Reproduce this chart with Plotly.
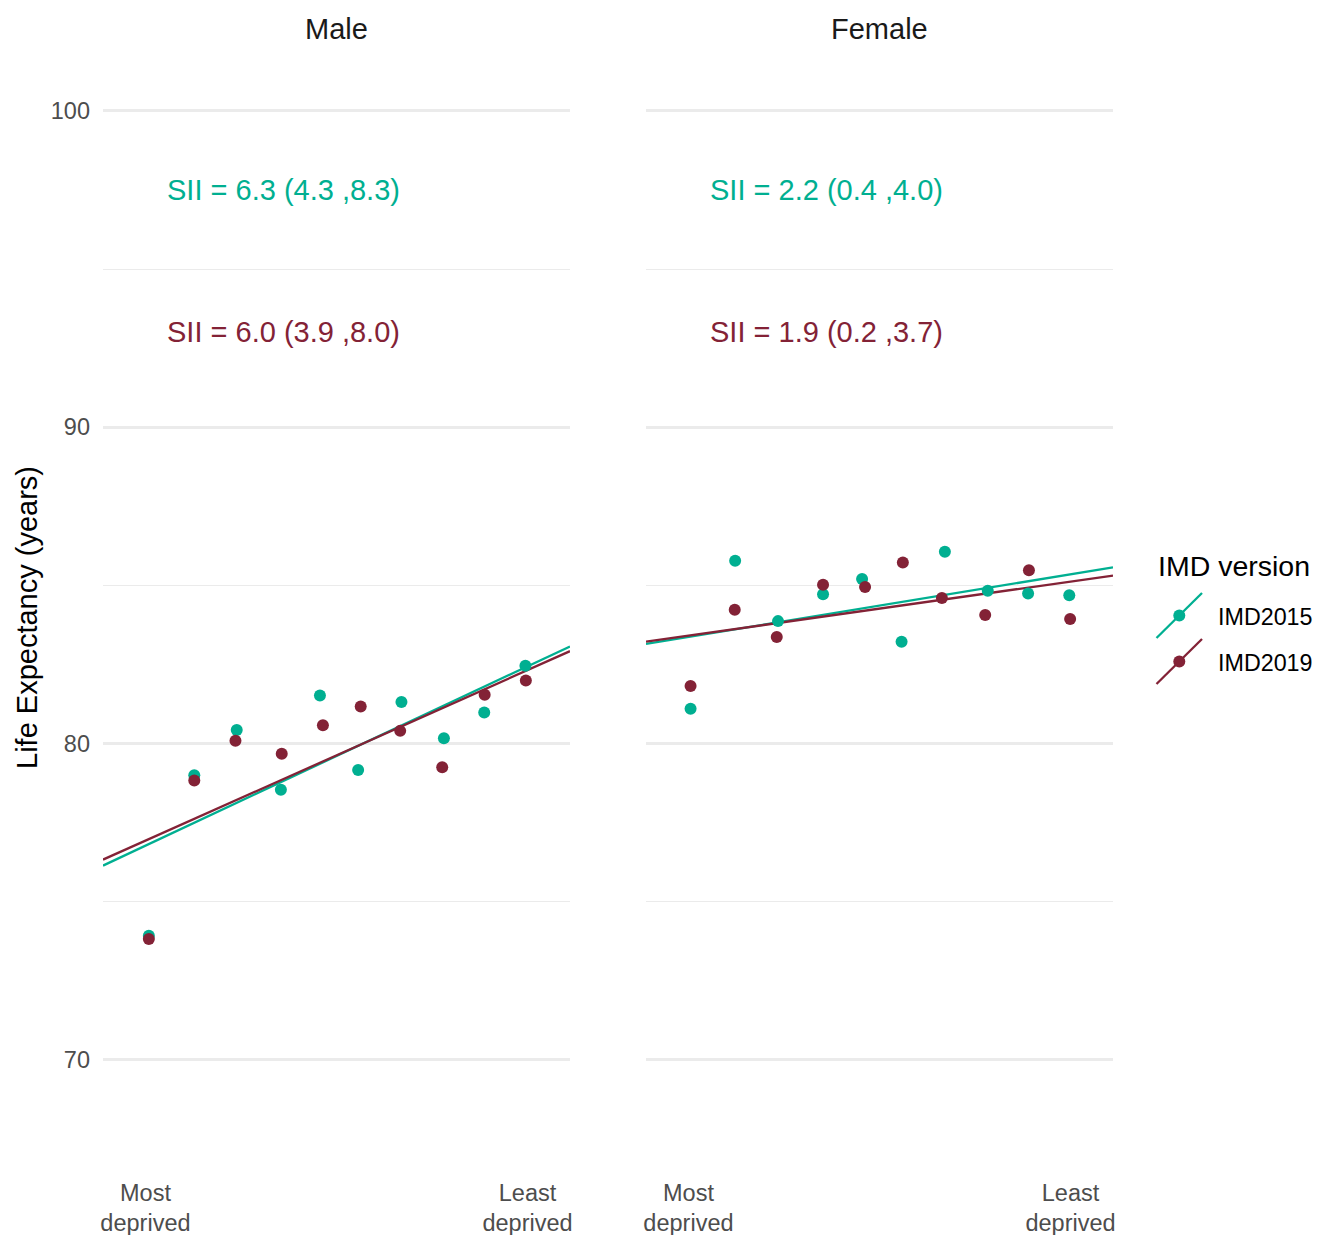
import plotly.graph_objects as go

# ---------------- data ----------------
tick_positions = [1, 10]
tick_labels = ["Most<br>deprived", "Least<br>deprived"]

male_x_2015 = [1.08, 2.15, 3.15, 4.19, 5.11, 6.01, 7.03, 8.03, 8.98, 9.95]
male_y_2015 = [73.92, 79.00, 80.43, 78.54, 81.52, 79.16, 81.31, 80.17, 80.98, 82.46]
male_x_2019 = [1.08, 2.15, 3.12, 4.21, 5.18, 6.07, 7.00, 7.99, 8.99, 9.96]
male_y_2019 = [73.82, 78.83, 80.09, 79.68, 80.58, 81.17, 80.40, 79.25, 81.54, 81.99]

female_x_2015 = [1.05, 2.10, 3.11, 4.17, 5.09, 6.02, 7.04, 8.05, 9.00, 9.97]
female_y_2015 = [81.10, 85.78, 83.87, 84.72, 85.20, 83.22, 86.06, 84.83, 84.74, 84.69]
female_x_2019 = [1.05, 2.09, 3.08, 4.17, 5.16, 6.05, 6.97, 7.99, 9.02, 9.99]
female_y_2019 = [81.82, 84.23, 83.37, 85.02, 84.95, 85.72, 84.60, 84.06, 85.48, 83.94]

fit_x = [0, 11]
male_fit_2015 = [76.14, 83.07]
male_fit_2019 = [76.33, 82.92]
female_fit_2015 = [83.15, 85.57]
female_fit_2019 = [83.22, 85.31]

sii_male = ["SII = 6.3 (4.3 ,8.3)", "SII = 6.0 (3.9 ,8.0)"]
sii_female = ["SII = 2.2 (0.4 ,4.0)", "SII = 1.9 (0.2 ,3.7)"]
sii_x = 4.25
sii_y = [97.5, 93.0]

versions = ["IMD2015", "IMD2019"]
colors = ["#00AF91", "#832236"]

# ---------------- layout geometry ----------------
# body margin is removed after rendering (post_script), figure fills the window
W, H = 1318, 1235
P_LEFT, P_RIGHT, P_TOP, P_BOTTOM = 103, 1113, 48, 1180  # screen pixels
ML, MT = P_LEFT, P_TOP
MR, MB = W - P_RIGHT, H - P_BOTTOM
PW = P_RIGHT - P_LEFT
PH = P_BOTTOM - P_TOP
FONT = "Liberation Sans, Arial, sans-serif"


def px_x(p):
    return (p - P_LEFT) / PW


def px_y(p):
    return (P_BOTTOM - p) / PH


fig = go.Figure()

panels = [
    ("x", "y", [male_fit_2015, male_fit_2019],
     [(male_x_2015, male_y_2015), (male_x_2019, male_y_2019)]),
    ("x2", "y2", [female_fit_2015, female_fit_2019],
     [(female_x_2015, female_y_2015), (female_x_2019, female_y_2019)]),
]

for xa, ya, fits, pts in panels:
    for i, fit in enumerate(fits):
        fig.add_trace(go.Scatter(
            x=fit_x, y=fit, mode="lines", xaxis=xa, yaxis=ya,
            line=dict(color=colors[i], width=2.3), showlegend=False,
            name=versions[i], hoverinfo="skip"))
    for i, (xs, ys) in enumerate(pts):
        fig.add_trace(go.Scatter(
            x=xs, y=ys, mode="markers", xaxis=xa, yaxis=ya,
            marker=dict(color=colors[i], size=12, line=dict(width=0)),
            showlegend=False, name=versions[i]))

grid_major = "#EBEBEB"
yaxis_common = dict(
    range=[66.2, 101.99], tickvals=[70, 80, 90, 100],
    showgrid=True, gridcolor=grid_major, gridwidth=2.5,
    zeroline=False, showline=False, ticks="", automargin=False,
    minor=dict(tickvals=[75, 85, 95], showgrid=True,
               gridcolor=grid_major, gridwidth=1.3),
    tickfont=dict(family=FONT, size=23.5, color="#4D4D4D"),
)
xaxis_common = dict(
    range=[0, 11], tickvals=tick_positions, ticktext=tick_labels,
    showgrid=False, zeroline=False, showline=False, ticks="",
    automargin=False, ticklabelstandoff=-4,
    tickfont=dict(family=FONT, size=23.5, color="#4D4D4D"),
)

fig.update_layout(
    width=W, height=H, autosize=False,
    margin=dict(l=ML, r=MR, t=MT, b=MB),
    paper_bgcolor="white", plot_bgcolor="white",
    font=dict(family=FONT),
    xaxis=dict(domain=[0, px_x(570)], anchor="y", **xaxis_common),
    xaxis2=dict(domain=[px_x(646), 1], anchor="y2", **xaxis_common),
    yaxis=dict(domain=[0, 1], anchor="x", ticklabelstandoff=12,
               ticktext=["70", "80", "90", "100"], **yaxis_common),
    yaxis2=dict(domain=[0, 1], anchor="x2", matches="y",
                showticklabels=False, **yaxis_common),
    showlegend=False,
)

ann = []
# strip titles
for label, (a, b) in [("Male", (103, 570)), ("Female", (646, 1113))]:
    ann.append(dict(text=label, x=px_x((a + b) / 2), y=px_y(29),
                    xref="paper", yref="paper", showarrow=False,
                    xanchor="center", yanchor="middle",
                    font=dict(family=FONT, size=29, color="#1A1A1A")))
# SII labels
for xa, ya, texts in [("x", "y", sii_male), ("x2", "y2", sii_female)]:
    for i, t in enumerate(texts):
        ann.append(dict(text=t, x=sii_x, y=sii_y[i], xref=xa, yref=ya,
                        showarrow=False, xanchor="center", yanchor="middle",
                        font=dict(family=FONT, size=29, color=colors[i])))
# y axis title
ann.append(dict(text="Life Expectancy (years)", x=px_x(27), y=px_y(618),
                xref="paper", yref="paper", showarrow=False, textangle=-90,
                xanchor="center", yanchor="middle",
                font=dict(family=FONT, size=29, color="black")))
# legend
ann.append(dict(text="IMD version", x=px_x(1156), y=px_y(566),
                xref="paper", yref="paper", showarrow=False,
                xanchor="left", yanchor="middle",
                font=dict(family=FONT, size=28.5, color="black")))
shapes = []
for i, v in enumerate(versions):
    cy = 615.5 + i * 46
    ann.append(dict(text=v, x=px_x(1216), y=px_y(cy + 1),
                    xref="paper", yref="paper", showarrow=False,
                    xanchor="left", yanchor="middle",
                    font=dict(family=FONT, size=23.3, color="black")))
    shapes.append(dict(type="line", xref="paper", yref="paper",
                       x0=px_x(1156.5), y0=px_y(cy + 22.5),
                       x1=px_x(1202), y1=px_y(cy - 22.5),
                       line=dict(color=colors[i], width=2.3)))
    shapes.append(dict(type="circle", xref="paper", yref="paper",
                       x0=px_x(1179.3 - 6), x1=px_x(1179.3 + 6),
                       y0=px_y(cy + 6), y1=px_y(cy - 6),
                       fillcolor=colors[i], line=dict(width=0)))

fig.update_layout(annotations=ann, shapes=shapes)

fig.write_html(
    "out.html",
    config={"displayModeBar": False},
    post_script="document.body.style.margin='0';"
                "document.body.style.overflow='hidden';",
)
